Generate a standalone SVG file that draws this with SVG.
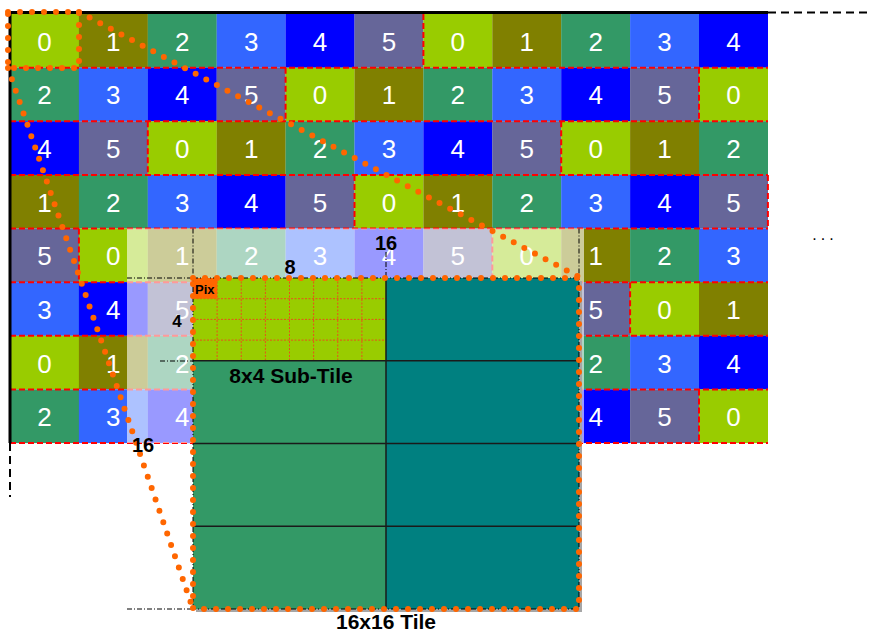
<svg xmlns="http://www.w3.org/2000/svg" width="872" height="635" viewBox="0 0 872 635">
<style>
.v0{fill:#99CC00}.v1{fill:#808000}.v2{fill:#339966}.v3{fill:#3366FF}.v4{fill:#0000FF}.v5{fill:#666699}
.num{font-family:"Liberation Sans",Arial,sans-serif;font-size:26px;fill:#fff;text-anchor:middle}
.red{stroke:#FF0000;stroke-width:2;stroke-dasharray:6 3;fill:none}
.dd{stroke:#000;stroke-width:1;stroke-dasharray:5 2 1 2;fill:none}
.dots{stroke:#FF6600;stroke-width:6;stroke-linecap:round;stroke-dasharray:0 12;fill:none}
.lbl{font-family:"Liberation Sans",Arial,sans-serif;font-weight:bold;fill:#000}
.pg{stroke:#E8501A;stroke-width:1;stroke-dasharray:2 1.5;fill:none}
.sub{stroke:#1a1a1a;stroke-width:1.5;fill:none}
</style>
<defs>
<rect id="cell" width="69" height="53.7"/>
</defs>
<rect width="872" height="635" fill="#fff"/>
<g id="grid">
<!-- row 0 -->
<g id="c0-0" transform="translate(10,14)"><use href="#cell" class="v0"/><text class="num" x="34.45" y="36.8">0</text></g>
<g id="c0-1" transform="translate(78.9,14)"><use href="#cell" class="v1"/><text class="num" x="34.45" y="36.8">1</text></g>
<g id="c0-2" transform="translate(147.8,14)"><use href="#cell" class="v2"/><text class="num" x="34.45" y="36.8">2</text></g>
<g id="c0-3" transform="translate(216.7,14)"><use href="#cell" class="v3"/><text class="num" x="34.45" y="36.8">3</text></g>
<g id="c0-4" transform="translate(285.6,14)"><use href="#cell" class="v4"/><text class="num" x="34.45" y="36.8">4</text></g>
<g id="c0-5" transform="translate(354.5,14)"><use href="#cell" class="v5"/><text class="num" x="34.45" y="36.8">5</text></g>
<g id="c0-6" transform="translate(423.4,14)"><use href="#cell" class="v0"/><text class="num" x="34.45" y="36.8">0</text></g>
<g id="c0-7" transform="translate(492.3,14)"><use href="#cell" class="v1"/><text class="num" x="34.45" y="36.8">1</text></g>
<g id="c0-8" transform="translate(561.2,14)"><use href="#cell" class="v2"/><text class="num" x="34.45" y="36.8">2</text></g>
<g id="c0-9" transform="translate(630.1,14)"><use href="#cell" class="v3"/><text class="num" x="34.45" y="36.8">3</text></g>
<g id="c0-10" transform="translate(699,14)"><use href="#cell" class="v4"/><text class="num" x="34.45" y="36.8">4</text></g>
<!-- row 1 -->
<g id="c1-0" transform="translate(10,67.63)"><use href="#cell" class="v2"/><text class="num" x="34.45" y="36.8">2</text></g>
<g id="c1-1" transform="translate(78.9,67.63)"><use href="#cell" class="v3"/><text class="num" x="34.45" y="36.8">3</text></g>
<g id="c1-2" transform="translate(147.8,67.63)"><use href="#cell" class="v4"/><text class="num" x="34.45" y="36.8">4</text></g>
<g id="c1-3" transform="translate(216.7,67.63)"><use href="#cell" class="v5"/><text class="num" x="34.45" y="36.8">5</text></g>
<g id="c1-4" transform="translate(285.6,67.63)"><use href="#cell" class="v0"/><text class="num" x="34.45" y="36.8">0</text></g>
<g id="c1-5" transform="translate(354.5,67.63)"><use href="#cell" class="v1"/><text class="num" x="34.45" y="36.8">1</text></g>
<g id="c1-6" transform="translate(423.4,67.63)"><use href="#cell" class="v2"/><text class="num" x="34.45" y="36.8">2</text></g>
<g id="c1-7" transform="translate(492.3,67.63)"><use href="#cell" class="v3"/><text class="num" x="34.45" y="36.8">3</text></g>
<g id="c1-8" transform="translate(561.2,67.63)"><use href="#cell" class="v4"/><text class="num" x="34.45" y="36.8">4</text></g>
<g id="c1-9" transform="translate(630.1,67.63)"><use href="#cell" class="v5"/><text class="num" x="34.45" y="36.8">5</text></g>
<g id="c1-10" transform="translate(699,67.63)"><use href="#cell" class="v0"/><text class="num" x="34.45" y="36.8">0</text></g>
<!-- row 2 -->
<g id="c2-0" transform="translate(10,121.25)"><use href="#cell" class="v4"/><text class="num" x="34.45" y="36.8">4</text></g>
<g id="c2-1" transform="translate(78.9,121.25)"><use href="#cell" class="v5"/><text class="num" x="34.45" y="36.8">5</text></g>
<g id="c2-2" transform="translate(147.8,121.25)"><use href="#cell" class="v0"/><text class="num" x="34.45" y="36.8">0</text></g>
<g id="c2-3" transform="translate(216.7,121.25)"><use href="#cell" class="v1"/><text class="num" x="34.45" y="36.8">1</text></g>
<g id="c2-4" transform="translate(285.6,121.25)"><use href="#cell" class="v2"/><text class="num" x="34.45" y="36.8">2</text></g>
<g id="c2-5" transform="translate(354.5,121.25)"><use href="#cell" class="v3"/><text class="num" x="34.45" y="36.8">3</text></g>
<g id="c2-6" transform="translate(423.4,121.25)"><use href="#cell" class="v4"/><text class="num" x="34.45" y="36.8">4</text></g>
<g id="c2-7" transform="translate(492.3,121.25)"><use href="#cell" class="v5"/><text class="num" x="34.45" y="36.8">5</text></g>
<g id="c2-8" transform="translate(561.2,121.25)"><use href="#cell" class="v0"/><text class="num" x="34.45" y="36.8">0</text></g>
<g id="c2-9" transform="translate(630.1,121.25)"><use href="#cell" class="v1"/><text class="num" x="34.45" y="36.8">1</text></g>
<g id="c2-10" transform="translate(699,121.25)"><use href="#cell" class="v2"/><text class="num" x="34.45" y="36.8">2</text></g>
<!-- row 3 -->
<g id="c3-0" transform="translate(10,174.88)"><use href="#cell" class="v1"/><text class="num" x="34.45" y="36.8">1</text></g>
<g id="c3-1" transform="translate(78.9,174.88)"><use href="#cell" class="v2"/><text class="num" x="34.45" y="36.8">2</text></g>
<g id="c3-2" transform="translate(147.8,174.88)"><use href="#cell" class="v3"/><text class="num" x="34.45" y="36.8">3</text></g>
<g id="c3-3" transform="translate(216.7,174.88)"><use href="#cell" class="v4"/><text class="num" x="34.45" y="36.8">4</text></g>
<g id="c3-4" transform="translate(285.6,174.88)"><use href="#cell" class="v5"/><text class="num" x="34.45" y="36.8">5</text></g>
<g id="c3-5" transform="translate(354.5,174.88)"><use href="#cell" class="v0"/><text class="num" x="34.45" y="36.8">0</text></g>
<g id="c3-6" transform="translate(423.4,174.88)"><use href="#cell" class="v1"/><text class="num" x="34.45" y="36.8">1</text></g>
<g id="c3-7" transform="translate(492.3,174.88)"><use href="#cell" class="v2"/><text class="num" x="34.45" y="36.8">2</text></g>
<g id="c3-8" transform="translate(561.2,174.88)"><use href="#cell" class="v3"/><text class="num" x="34.45" y="36.8">3</text></g>
<g id="c3-9" transform="translate(630.1,174.88)"><use href="#cell" class="v4"/><text class="num" x="34.45" y="36.8">4</text></g>
<g id="c3-10" transform="translate(699,174.88)"><use href="#cell" class="v5"/><text class="num" x="34.45" y="36.8">5</text></g>
<!-- row 4 -->
<g id="c4-0" transform="translate(10,228.5)"><use href="#cell" class="v5"/><text class="num" x="34.45" y="36.8">5</text></g>
<g id="c4-1" transform="translate(78.9,228.5)"><use href="#cell" class="v0"/><text class="num" x="34.45" y="36.8">0</text></g>
<g id="c4-2" transform="translate(147.8,228.5)"><use href="#cell" class="v1"/><text class="num" x="34.45" y="36.8">1</text></g>
<g id="c4-3" transform="translate(216.7,228.5)"><use href="#cell" class="v2"/><text class="num" x="34.45" y="36.8">2</text></g>
<g id="c4-4" transform="translate(285.6,228.5)"><use href="#cell" class="v3"/><text class="num" x="34.45" y="36.8">3</text></g>
<g id="c4-5" transform="translate(354.5,228.5)"><use href="#cell" class="v4"/><text class="num" x="34.45" y="36.8">4</text></g>
<g id="c4-6" transform="translate(423.4,228.5)"><use href="#cell" class="v5"/><text class="num" x="34.45" y="36.8">5</text></g>
<g id="c4-7" transform="translate(492.3,228.5)"><use href="#cell" class="v0"/><text class="num" x="34.45" y="36.8">0</text></g>
<g id="c4-8" transform="translate(561.2,228.5)"><use href="#cell" class="v1"/><text class="num" x="34.45" y="36.8">1</text></g>
<g id="c4-9" transform="translate(630.1,228.5)"><use href="#cell" class="v2"/><text class="num" x="34.45" y="36.8">2</text></g>
<g id="c4-10" transform="translate(699,228.5)"><use href="#cell" class="v3"/><text class="num" x="34.45" y="36.8">3</text></g>
<!-- row 5 (cols 3-7 hidden under tile) -->
<g id="c5-0" transform="translate(10,282.13)"><use href="#cell" class="v3"/><text class="num" x="34.45" y="36.8">3</text></g>
<g id="c5-1" transform="translate(78.9,282.13)"><use href="#cell" class="v4"/><text class="num" x="34.45" y="36.8">4</text></g>
<g id="c5-2" transform="translate(147.8,282.13)"><use href="#cell" class="v5"/><text class="num" x="34.45" y="36.8">5</text></g>
<g id="c5-8" transform="translate(561.2,282.13)"><use href="#cell" class="v5"/><text class="num" x="34.45" y="36.8">5</text></g>
<g id="c5-9" transform="translate(630.1,282.13)"><use href="#cell" class="v0"/><text class="num" x="34.45" y="36.8">0</text></g>
<g id="c5-10" transform="translate(699,282.13)"><use href="#cell" class="v1"/><text class="num" x="34.45" y="36.8">1</text></g>
<!-- row 6 -->
<g id="c6-0" transform="translate(10,335.75)"><use href="#cell" class="v0"/><text class="num" x="34.45" y="36.8">0</text></g>
<g id="c6-1" transform="translate(78.9,335.75)"><use href="#cell" class="v1"/><text class="num" x="34.45" y="36.8">1</text></g>
<g id="c6-2" transform="translate(147.8,335.75)"><use href="#cell" class="v2"/><text class="num" x="34.45" y="36.8">2</text></g>
<g id="c6-8" transform="translate(561.2,335.75)"><use href="#cell" class="v2"/><text class="num" x="34.45" y="36.8">2</text></g>
<g id="c6-9" transform="translate(630.1,335.75)"><use href="#cell" class="v3"/><text class="num" x="34.45" y="36.8">3</text></g>
<g id="c6-10" transform="translate(699,335.75)"><use href="#cell" class="v4"/><text class="num" x="34.45" y="36.8">4</text></g>
<!-- row 7 -->
<g id="c7-0" transform="translate(10,389.38)"><use href="#cell" class="v2"/><text class="num" x="34.45" y="36.8">2</text></g>
<g id="c7-1" transform="translate(78.9,389.38)"><use href="#cell" class="v3"/><text class="num" x="34.45" y="36.8">3</text></g>
<g id="c7-2" transform="translate(147.8,389.38)"><use href="#cell" class="v4"/><text class="num" x="34.45" y="36.8">4</text></g>
<g id="c7-8" transform="translate(561.2,389.38)"><use href="#cell" class="v4"/><text class="num" x="34.45" y="36.8">4</text></g>
<g id="c7-9" transform="translate(630.1,389.38)"><use href="#cell" class="v5"/><text class="num" x="34.45" y="36.8">5</text></g>
<g id="c7-10" transform="translate(699,389.38)"><use href="#cell" class="v0"/><text class="num" x="34.45" y="36.8">0</text></g>
</g>
<g id="group-outlines">
<path class="red" d="M10,67.63H768M10,121.25H768M10,174.88H768M10,228.5H768M10,282.13H768M10,335.75H768M10,389.38H768M10,443H768"/>
<path class="red" d="M423.4,14V67.63M285.6,67.63V121.25M699,67.63V121.25M147.8,121.25V174.88M561.2,121.25V174.88M354.5,174.88V228.5M767.9,174.88V228.5M78.9,228.5V282.13M492.3,228.5V282.13M216.7,282.13V335.75M630.1,282.13V335.75M699,389.38V443"/>
</g>
<rect id="projection-veil" x="127" y="228.5" width="457" height="214.5" fill="#fff" fill-opacity="0.6"/>
<g id="borders">
<path d="M9,12.5H768M10,12V443" stroke="#000" stroke-width="3" fill="none"/>
<path d="M768,12.5H872M10,443V497" stroke="#000" stroke-width="2" stroke-dasharray="8 5" fill="none"/>
</g>
<g id="guides">
<path class="dd" d="M193,228.5V278M127,278H193M579,228.5V278M386,252V278M160,361H193M127,609H193"/>
</g>
<g id="tile-16x16">
<rect x="196" y="281" width="386" height="331" fill="#A6A6A6"/>
<rect x="193" y="278" width="193" height="82.75" fill="#99CC00"/>
<rect x="386" y="278" width="193" height="331" fill="#008080"/>
<rect x="193" y="360.75" width="193" height="248.25" fill="#339966"/>
<path class="pg" d="M217.1,278V360.75M241.25,278V360.75M265.4,278V360.75M289.5,278V360.75M313.6,278V360.75M337.75,278V360.75M361.9,278V360.75M193,298.7H386M193,319.4H386M193,340.1H386"/>
<g id="pix">
<rect x="193" y="278" width="24.1" height="20.7" fill="#FF6600"/>
<text class="lbl" x="195" y="294" font-size="13">Pix</text>
</g>
<path class="sub" d="M386,278V609M193,360.75H579M193,443.5H579M193,526.25H579"/>
<rect x="193" y="278" width="386" height="331" class="dd" stroke="#222"/>
</g>
<g id="connectors">
<rect class="dots" x="8" y="12" width="71" height="56"/>
<path class="dots" d="M79,12L581,278"/>
<path class="dots" d="M8,68L193,609"/>
<rect class="dots" x="193" y="278" width="386" height="331"/>
</g>
<g id="labels">
<text class="lbl" x="386" y="250" font-size="20" text-anchor="middle">16</text>
<text class="lbl" x="290" y="274" font-size="20" text-anchor="middle">8</text>
<text class="lbl" x="177" y="327" font-size="17" text-anchor="middle">4</text>
<text class="lbl" x="143" y="452" font-size="20" text-anchor="middle">16</text>
<text class="lbl" x="291" y="383" font-size="21" text-anchor="middle">8x4 Sub-Tile</text>
<text class="lbl" x="386" y="629" font-size="21" text-anchor="middle">16x16 Tile</text>
<text x="825" y="240" font-family="Liberation Sans, Arial, sans-serif" font-size="16" text-anchor="middle" letter-spacing="4" fill="#000">...</text>
</g>
</svg>
